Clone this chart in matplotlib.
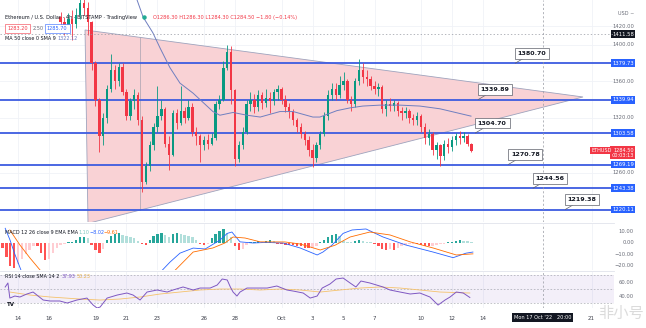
import numpy as np
import matplotlib.pyplot as plt
from matplotlib.patches import Polygon
from matplotlib.lines import Line2D
import matplotlib.transforms as mtransforms

# ---- data (6h bars, bar 0 = Sep 16 18:00) ----
first_open = 1430
closes = [1425, 1420, 1428, 1422, 1432, 1445, 1440, 1425, 1380, 1340,
          1300, 1320, 1352, 1372, 1360, 1376, 1348, 1322, 1338, 1345,
          1318, 1250, 1268, 1290, 1310, 1322, 1330, 1292, 1280, 1325,
          1315, 1328, 1320, 1332, 1305, 1300, 1290, 1296, 1292, 1298,
          1335, 1340, 1375, 1392, 1350, 1275, 1290, 1305, 1335, 1340,
          1332, 1345, 1336, 1342, 1338, 1348, 1352, 1340, 1332, 1326,
          1318, 1310, 1302, 1296, 1285, 1276, 1290, 1302, 1322, 1345,
          1352, 1345, 1356, 1360, 1340, 1335, 1360, 1372, 1365, 1362,
          1355, 1352, 1354, 1330, 1335, 1333, 1336, 1328, 1325, 1328,
          1320, 1318, 1322, 1310, 1298, 1302, 1285, 1290, 1278, 1292,
          1288, 1296, 1300, 1298, 1300, 1292, 1284.5]
highs = [1436, 1430, 1434, 1438, 1440, 1458, 1452, 1446, 1426, 1382,
         1342, 1325, 1356, 1390, 1378, 1380, 1380, 1352, 1342, 1352,
         1348, 1322, 1272, 1295, 1315, 1355, 1340, 1332, 1300, 1329,
         1330, 1355, 1332, 1340, 1336, 1310, 1302, 1300, 1302, 1304,
         1338, 1345, 1382, 1400, 1398, 1352, 1295, 1310, 1340, 1348,
         1346, 1350, 1348, 1352, 1348, 1352, 1356, 1354, 1345, 1336,
         1330, 1320, 1315, 1306, 1300, 1292, 1294, 1306, 1326, 1350,
         1358, 1358, 1366, 1370, 1362, 1344, 1364, 1384, 1380, 1372,
         1366, 1360, 1358, 1356, 1340, 1342, 1340, 1338, 1332, 1332,
         1330, 1324, 1326, 1324, 1314, 1308, 1305, 1294, 1292, 1296,
         1298, 1300, 1304, 1306, 1305, 1302, 1293]
lows = [1414, 1410, 1416, 1405, 1418, 1428, 1432, 1410, 1372, 1333,
        1283, 1290, 1315, 1348, 1352, 1355, 1345, 1318, 1318, 1330,
        1312, 1239, 1248, 1262, 1285, 1305, 1318, 1288, 1263, 1278,
        1308, 1312, 1314, 1318, 1300, 1290, 1272, 1285, 1286, 1290,
        1296, 1330, 1338, 1372, 1335, 1268, 1272, 1286, 1302, 1328,
        1325, 1328, 1330, 1332, 1325, 1334, 1340, 1335, 1326, 1320,
        1312, 1305, 1298, 1290, 1278, 1266, 1272, 1286, 1300, 1318,
        1340, 1340, 1342, 1350, 1336, 1328, 1332, 1356, 1358, 1355,
        1350, 1346, 1344, 1325, 1322, 1328, 1328, 1322, 1318, 1320,
        1314, 1312, 1312, 1305, 1292, 1290, 1280, 1275, 1268, 1274,
        1282, 1284, 1290, 1292, 1294, 1289, 1283]

ma_bars = [19.2, 21.3, 23.8, 25.7, 28.2, 30.8, 34.2, 39.3, 41.1, 44.5, 48.1, 51.5,
           56.6, 60.0, 65.1, 66.9, 71.3, 74.7, 78.0, 82.4, 87.6, 92.7, 97.9, 105.9]
ma_vals = [1455, 1430, 1413, 1396, 1375, 1358, 1347, 1327, 1323, 1326, 1323, 1321,
           1327, 1327, 1321, 1321, 1328, 1331, 1333, 1334, 1334, 1333, 1330, 1322]

line_levels = [1379.73, 1339.94, 1303.58, 1269.19, 1243.38, 1220.11]
note_values = ["1380.70", "1339.89", "1304.70", "1270.78", "1244.56", "1219.38"]
note_bars = [117.3, 107.7, 107.0, 115.5, 121.9, 130.2]

# triangle pattern (bar, price)
tri_bars = [6.3, 7.07, 134.8]
tri_prices = [1416, 1205, 1342.9]

hist_start = -15
macd_hist = [-4, -12, -20, -22, -19, -14, -10, -6, -3,
             -3, -9, -15, -14, -9, -4,
             -2, -1, 0.5, 1,
             3, 5, 5, 4,
             -2, -6, -9, -5,
             3, 6, 8, 9, 7,
             6, 5, 4, 2,
             -1, -2,
             3, 6, 8, 9, 7,
             5, 8, 9, 8,
             7, 6, 5, 3,
             -1, -1.5, -0.5,
             4, 8, 11, 12,
             9, 5,
             -3, -6, -5,
             -2, 0.5, 1, 1.5, 1, 2, 2.5, 1.5,
             -0.5, -1, -1.5, -2, -2, -2.5,
             -3, -4, -4.5, -4, -3,
             1, 3, 5, 7, 8, 6,
             2, 1, 0.5, 2, 2.5, 2, 1, 0.5,
             -1, -3, -5, -6, -5, -6, -4, -3, -2,
             -1, -0.5, -1,
             -2, -3, -3, -2.5, -2, -1,
             -0.5, 0.5, 1,
             2, 2.5, 2, 1.5, 1.1]

macd_bars = [-14.3, -13.1, -11.8, -10, -6, -0.2, 5, 10, 15, 20.5, 24, 25.7, 28.2, 30.8,
             34.2, 37.3, 41.1, 43, 44.2, 46.3, 49.7, 53, 57.4, 61.8, 66.2, 67.7, 70,
             72.9, 75.2, 78.8, 83.2, 89.1, 96.1, 101.3, 104.6, 106.4]
macd_line = [13, 3, -10, -26, -38, -48, -52, -50, -45, -38, -30, -26, -17, -9,
             -4.5, -5.3, 2.5, 8.5, 9.7, 1, 0, 0.5, 0, -4.4, -10.6, -8, -2,
             8.5, 11.5, 12.4, 5.3, -1.8, -8, -13, -9, -8.02]
signal_bars = [-13.1, -10.5, -7.9, -4.8, 0, 8, 15, 22, 26, 29, 31.6, 34.2, 39.3, 42.4,
               44.5, 47.6, 51.5, 57.9, 61.8, 67, 70.8, 74.7, 79.8, 85, 90.2, 96.1,
               102.1, 106.4]
signal_line = [11.5, -1.8, -13.3, -26, -34, -42, -44, -38, -32, -26, -17, -8, -4.4, 0,
               5.3, 4.4, 1, 0.9, -0.9, -6.2, -2, 5.3, 9.7, 7.1, 1, -4.4, -10.6, -9.61]

rsi_bars = [-14.3, -13.6, -13.1, -11.8, -10.5, -8.7, -7.1, -5.8, -4.5, -2.7, -0.2, 1.7,
            4.2, 6.8, 8.4, 9.4, 10.2, 12, 14.6, 17.1, 18.7, 20.5, 22.3, 24.9, 27.5, 29,
            31.6, 34.2, 36, 38.6, 40.4, 41.7, 43, 43.8, 44.5, 45.5, 46.3, 48.1, 50.7,
            53.3, 55.8, 58.4, 60, 62.6, 64.4, 66.2, 67.5, 69.5, 71.1, 72.9, 74.7, 76.2,
            77.5, 79.8, 83.2, 85, 87.6, 90.2, 92.7, 95.3, 97.4, 99.2, 100.5, 102.1,
            103.9, 105.6]
rsi_vals = [52.9, 58.6, 37.1, 40, 38.6, 42.9, 45.7, 40, 34.3, 32.9, 32.9, 30,
            34.3, 37.1, 27.1, 22.9, 24.3, 37.1, 41.4, 44.3, 41.4, 34.3, 45.7, 48.6, 45.7, 48.6,
            52.9, 48.6, 51.4, 51.4, 55.7, 64.3, 62.9, 52.9, 45.7, 40, 45.7, 51.4, 51.4,
            51.4, 54.3, 48.6, 47.1, 44.3, 37.1, 40, 51.4, 57.1, 64.3, 65.7, 58.6, 52.9,
            61.4, 58.6, 52.9, 48.6, 45.7, 42.9, 44.3, 38.6, 27.1, 34.3, 38.6, 45.7,
            44.3, 37.93]
rsi_ma_bars = [-13.1, -7.9, -2.7, 5, 10.2, 15.3, 20.5, 25.7, 30.8, 36, 41.1, 46.3, 51.5,
               56.6, 61.8, 67, 72.1, 77.3, 82.4, 87.6, 92.7, 97.9, 105.6]
rsi_ma_vals = [45.7, 41.4, 38.6, 35.7, 34.3, 35.7, 38.6, 42.9, 45.7, 48.6, 50, 50, 48.6,
               50, 48.6, 45.7, 48.6, 51.4, 52.9, 51.4, 48.6, 45.7, 44.3]

tick_days = [0, 2, 5, 7, 9, 12, 14, 17, 19, 21, 23, 26, 28, 30, 37]
tick_labels = ["14", "16", "19", "21", "23", "26", "28", "Oct", "3", "5", "7",
               "10", "12", "14", "21"]
price_ticks = [1420, 1400, 1360, 1320, 1260]
macd_ticks = [10, 0, -10, -20]
rsi_ticks = [60, 40]
cross_day = 33.85
cross_price = 1411.58
last_price = 1284.50

UP, DOWN = "#089981", "#f23645"
LINE = "#3d5ce0"
W, H = 646, 328


def day_to_bar(d):
    return (d - 2.75) * 4


fig = plt.figure(figsize=(W / 100, H / 100), dpi=100)
fig.patch.set_facecolor("white")


def pane(top, bottom, right=614):
    a = fig.add_axes([0, 1 - bottom / H, right / W, (bottom - top) / H])
    for s in a.spines.values():
        s.set_visible(False)
    a.set_xlim(-15.64, 142.8)
    a.tick_params(length=0, labelleft=False, labelbottom=False)
    return a


ax = pane(0, 222)
axm = pane(224, 270)
axr = pane(272, 308)
ax.set_ylim(1206.5, 1448.7)
axm.set_ylim(-23.9, 16.8)
axr.set_ylim(22.9, 74.3)

tick_bars = [day_to_bar(d) for d in tick_days]
for a in (ax, axm, axr):
    a.set_xticks(tick_bars)
    a.grid(axis="x", color="#f0f2f7", lw=0.6)
    a.set_axisbelow(True)
ax.set_yticks(price_ticks)
ax.grid(axis="y", color="#f0f2f7", lw=0.6)
ax.set_yticklabels([])

# pane separators
for yy in (223, 271):
    fig.add_artist(Line2D([0, 614 / W], [1 - yy / H] * 2, color="#e0e3eb", lw=0.6))

# ---- main pane ----
tri = Polygon(list(zip(tri_bars, tri_prices)), closed=True, fc="#f9d2d5",
              ec="#9ea3bd", lw=0.6, zorder=1)
ax.add_patch(tri)
# vertical divider inside the pattern
xb = 20.5
top_p = np.interp(xb, [tri_bars[0], tri_bars[2]], [tri_prices[0], tri_prices[2]])
bot_p = np.interp(xb, [tri_bars[1], tri_bars[2]], [tri_prices[1], tri_prices[2]])
ax.plot([xb, xb], [bot_p, top_p], color="#a8a2b0", lw=0.5, zorder=1.5)

for lv in line_levels:
    ax.axhline(lv, color=LINE, lw=1.3, zorder=2)

opens = [first_open] + closes[:-1]
x = np.arange(len(closes))
col = [UP if c >= o else DOWN for o, c in zip(opens, closes)]
ax.vlines(x, lows, highs, colors=col, lw=0.6, zorder=3)
bottoms = [min(o, c) for o, c in zip(opens, closes)]
heights = [max(abs(c - o), 0.8) for o, c in zip(opens, closes)]
ax.bar(x, heights, bottom=bottoms, width=0.62, color=col, lw=0, zorder=4)

ax.plot(ma_bars, ma_vals, color="#6f7fc0", lw=0.7, zorder=5)

# crosshair
cb = day_to_bar(cross_day)
for a in (ax, axm, axr):
    a.axvline(cb, color="#9598a1", lw=0.5, ls=(0, (3, 3)), zorder=6)
ax.axhline(cross_price, color="#9598a1", lw=0.5, ls=(0, (2, 3)), zorder=6)

for lv, txt, nb in zip(line_levels, note_values, note_bars):
    ax.annotate(txt, xy=(nb, lv), xytext=(17, 10), textcoords="offset pixels",
                ha="center", va="center", fontsize=4.6, fontweight="bold", color="#131722",
                bbox=dict(boxstyle="square,pad=0.45", fc="white", ec="#5d606b", lw=0.5),
                arrowprops=dict(arrowstyle="-", color="#5d606b", lw=0.5,
                                shrinkA=0, shrinkB=0), zorder=8)

# price scale labels
tr = mtransforms.blended_transform_factory(ax.transAxes, ax.transData)
AX_X = 634 / 614
for p in price_ticks:
    ax.text(AX_X, p, f"{p:.2f}", transform=tr, ha="right", va="center",
            fontsize=3.8, color="#6a6d78", clip_on=False)
ax.text(AX_X, 1434.5, "USD ~", transform=tr, ha="right", va="center",
        fontsize=3.6, color="#6a6d78", clip_on=False)
for lv in line_levels:
    ax.text(AX_X, lv, f"{lv:.2f}", transform=tr, ha="right", va="center",
            fontsize=3.8, color="white", clip_on=False,
            bbox=dict(boxstyle="square,pad=0.25", fc="#2962ff", ec="none"))
ax.text(AX_X, cross_price, f"{cross_price:.2f}", transform=tr, ha="right", va="center",
        fontsize=3.8, color="white", clip_on=False,
        bbox=dict(boxstyle="square,pad=0.25", fc="#131722", ec="none"))
ax.text(AX_X, last_price - 2.5, f"{last_price:.2f}\n00:03:13", transform=tr, ha="right",
        va="center", fontsize=3.6, color="white", clip_on=False, linespacing=1.1,
        bbox=dict(boxstyle="square,pad=0.25", fc=DOWN, ec="none"))
ax.text(612 / 614, last_price, "ETHUSD", transform=tr, ha="right", va="center",
        fontsize=3.6, color="white", clip_on=False,
        bbox=dict(boxstyle="square,pad=0.25", fc=DOWN, ec="none"))

# ---- MACD pane ----
hx = hist_start + np.arange(len(macd_hist))
hcol = []
for i, v in enumerate(macd_hist):
    prev = macd_hist[i - 1] if i > 0 else v
    if v >= 0:
        hcol.append("#26a69a" if v >= prev else "#b2dfdb")
    else:
        hcol.append("#ff5252" if v <= prev else "#ffcdd2")
axm.bar(hx, macd_hist, width=0.62, color=hcol, lw=0)
axm.plot(macd_bars, macd_line, color="#2962ff", lw=0.6)
axm.plot(signal_bars, signal_line, color="#ff6d00", lw=0.6)
trm = mtransforms.blended_transform_factory(axm.transAxes, axm.transData)
for t in macd_ticks:
    axm.text(AX_X, t, f"{t:.2f}".replace("-", "\u2212"), transform=trm, ha="right",
             va="center", fontsize=3.8, color="#6a6d78", clip_on=False)

# ---- RSI pane ----
axr.axhspan(30, 70, color="#7e57c2", alpha=0.09, lw=0)
for lv in (70, 50, 30):
    axr.axhline(lv, color="#9598a1", lw=0.4, ls=(0, (3, 3)))
axr.plot(rsi_ma_bars, rsi_ma_vals, color="#f5c26b", lw=0.6)
axr.plot(rsi_bars, rsi_vals, color="#7e57c2", lw=0.7)
trr = mtransforms.blended_transform_factory(axr.transAxes, axr.transData)
for t in rsi_ticks:
    axr.text(AX_X, t, f"{t:.2f}", transform=trr, ha="right", va="center",
             fontsize=3.8, color="#6a6d78", clip_on=False)

# time axis
axr.tick_params(labelbottom=True, pad=6, labelsize=4, labelcolor="#3c3f4a")
axr.set_xticklabels(tick_labels)
axr.text(cb, -0.2, "Mon 17 Oct '22   20:00", transform=mtransforms.blended_transform_factory(
    axr.transData, axr.transAxes), ha="center", va="top", fontsize=3.6, color="white",
    clip_on=False, bbox=dict(boxstyle="square,pad=0.35", fc="#131722", ec="none"))


# ---- header / legends ----
def ftxt(px, py, s, **kw):
    fig.text(px / W, 1 - py / H, s, va="center", **kw)


ftxt(5, 17, "Ethereum / U.S. Dollar · 4h · BITSTAMP · TradingView", fontsize=3.6,
     color="#131722")
fig.add_artist(Line2D([144 / W], [1 - 17 / H], marker="o", ms=2.2, color="#22ab94"))
ftxt(153, 17, "O1286.30 H1286.30 L1284.30 C1284.50 \u22121.80 (\u22120.14%)",
     fontsize=3.6, color=DOWN)
ftxt(7, 28, "1283.20", fontsize=3.6, color=DOWN,
     bbox=dict(boxstyle="square,pad=0.4", fc="white", ec=DOWN, lw=0.4))
ftxt(33, 28, "2.50", fontsize=3.6, color="#6a6d78")
ftxt(47, 28, "1285.70", fontsize=3.6, color="#2962ff",
     bbox=dict(boxstyle="square,pad=0.4", fc="white", ec="#2962ff", lw=0.4))
ftxt(5, 38, "MA 50 close 0 SMA 9", fontsize=3.5, color="#131722")
ftxt(57, 38, "1322.12", fontsize=3.5, color="#6f7fc0")

ftxt(5, 232, "MACD 12 26 close 9 EMA EMA", fontsize=3.5, color="#131722")
ftxt(78, 232, "1.10", fontsize=3.5, color="#7fc8c0")
ftxt(90, 232, "\u22128.02", fontsize=3.5, color="#2962ff")
ftxt(104, 232, "\u22129.61", fontsize=3.5, color="#ff6d00")

ftxt(5, 277, "RSI 14 close SMA 14 2", fontsize=3.5, color="#131722")
ftxt(62, 277, "37.93", fontsize=3.5, color="#7e57c2")
ftxt(77, 277, "50.23", fontsize=3.5, color="#e6b04a")
ftxt(7, 305, "TV", fontsize=4, color="#131722", fontweight="bold")

# watermark
ftxt(598, 313, "非小号", fontsize=11, color="#d8d8d8", alpha=0.9,
     family=["Noto Sans CJK SC", "DejaVu Sans"])

fig.savefig("out.png", dpi=100)
